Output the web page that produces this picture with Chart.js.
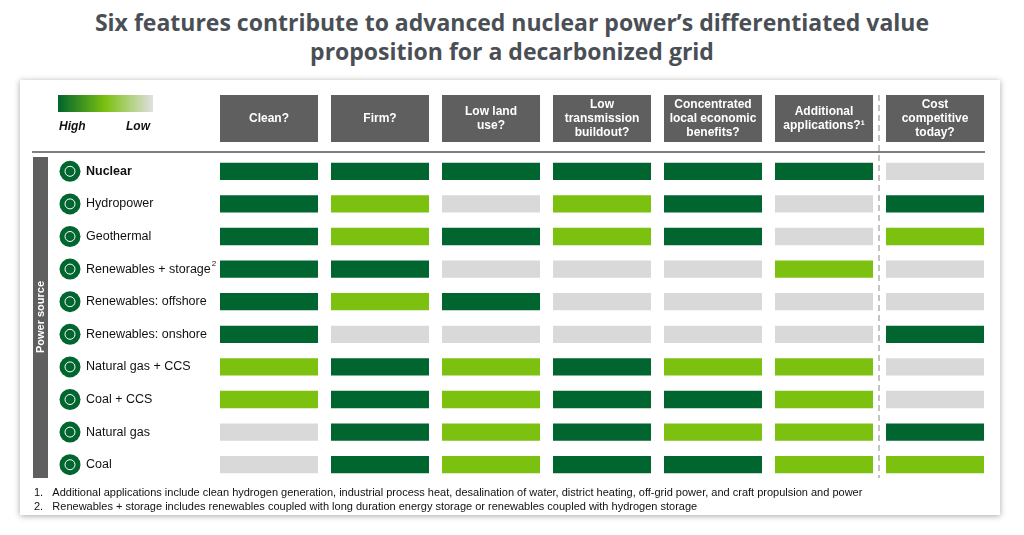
<!DOCTYPE html>
<html><head><meta charset="utf-8">
<script src="https://cdn.jsdelivr.net/npm/chart.js@4"></script>
<style>
body{margin:0;background:#fff;font-family:Arial,"Liberation Sans",sans-serif;}
#title{position:absolute;left:0;top:8px;width:1024px;text-align:center;font-weight:bold;font-size:23px;line-height:29px;color:#4a4f55;font-family:"Open Sans",Arial,sans-serif;}
#card{position:absolute;left:20px;top:80px;width:980px;height:435px;background:#fff;box-shadow:0 1px 6px rgba(0,0,0,0.35);}
#wrap{position:absolute;left:0;top:0;width:1024px;height:535px;}
</style></head><body>
<div id="title">Six features contribute to advanced nuclear power’s differentiated value<br>proposition for a decarbonized grid</div>
<div id="card"></div>
<div id="wrap"><canvas id="c" width="1024" height="535"></canvas></div>
<script>
const sources = ["Nuclear","Hydropower","Geothermal","Renewables + storage","Renewables: offshore","Renewables: onshore","Natural gas + CCS","Coal + CCS","Natural gas","Coal"];
const features = [["Clean?"],["Firm?"],["Low land","use?"],["Low","transmission","buildout?"],["Concentrated","local economic","benefits?"],["Additional","applications?¹"],["Cost","competitive","today?"]];
// 2 = high, 1 = medium, 0 = low
const clean      = [2,2,2,2,2,2,1,1,0,0];
const firm       = [2,1,1,2,1,0,2,2,2,2];
const lowLand    = [2,0,2,0,2,0,1,1,1,1];
const lowTrans   = [2,1,1,0,0,0,2,2,2,2];
const localBen   = [2,2,2,0,0,0,1,2,1,2];
const addApps    = [2,0,0,1,0,0,1,1,1,1];
const costComp   = [0,2,1,0,0,2,0,0,2,1];
const columns = [clean,firm,lowLand,lowTrans,localBen,addApps,costComp];
const footnotes = ["1.   Additional applications include clean hydrogen generation, industrial process heat, desalination of water, district heating, off-grid power, and craft propulsion and power",
"2.   Renewables + storage includes renewables coupled with long duration energy storage or renewables coupled with hydrogen storage"];
const levelColors = ["#d9d9d9","#7cc110","#00652e"];
const barW = 0.883;

const datasets = columns.map((col,ci)=>({
  data: col.map(()=>[ci, ci+barW]),
  backgroundColor: col.map(v=>levelColors[v]),
  grouped:false, barPercentage:0.53, categoryPercentage:1, borderWidth:0
}));

const deco = {
  id:'deco',
  afterDraw(chart){
    const ctx=chart.ctx, xs=chart.scales.x, ys=chart.scales.y;
    ctx.save();
    // headers
    features.forEach((lines,i)=>{
      const x0=xs.getPixelForValue(i), x1=xs.getPixelForValue(i+barW);
      ctx.fillStyle='#5f5f5f'; ctx.fillRect(x0,95,x1-x0,47);
      ctx.fillStyle='#fff'; ctx.font='bold 12px Arial, "Liberation Sans"'; ctx.textAlign='center'; ctx.textBaseline='middle';
      const cy=118.5, lh=14;
      lines.forEach((t,k)=>ctx.fillText(t,(x0+x1)/2,cy+(k-(lines.length-1)/2)*lh));
    });
    // legend gradient
    const g=ctx.createLinearGradient(58,0,153,0);
    g.addColorStop(0,'#00652e'); g.addColorStop(0.5,'#7cc110'); g.addColorStop(1,'#e0e0e0');
    ctx.fillStyle=g; ctx.fillRect(58,95,95,17);
    ctx.fillStyle='#111'; ctx.font='italic bold 12px Arial, "Liberation Sans"'; ctx.textAlign='left';
    ctx.fillText('High',59,127); ctx.fillText('Low',126,127);
    // separator line
    ctx.strokeStyle='#555'; ctx.lineWidth=1.5; ctx.beginPath(); ctx.moveTo(32,152); ctx.lineTo(985,152); ctx.stroke();
    // dashed line
    ctx.strokeStyle='#888'; ctx.lineWidth=1; ctx.setLineDash([6,4]); ctx.beginPath(); ctx.moveTo(879,95); ctx.lineTo(879,478); ctx.stroke(); ctx.setLineDash([]);
    // power source bar
    ctx.fillStyle='#5f5f5f'; ctx.fillRect(33,157,15,321);
    ctx.save(); ctx.translate(41,317); ctx.rotate(-Math.PI/2); ctx.fillStyle='#fff'; ctx.font='bold 11px Arial, "Liberation Sans"'; ctx.textAlign='center'; ctx.fillText('Power source',0,0); ctx.restore();
    // row labels
    sources.forEach((s,i)=>{
      const y=ys.getPixelForValue(i);
      ctx.fillStyle='#00652e'; ctx.beginPath(); ctx.arc(70,y,10.5,0,Math.PI*2); ctx.fill();
      ctx.strokeStyle='#fff'; ctx.lineWidth=1; ctx.beginPath(); ctx.arc(70,y,5,0,Math.PI*2); ctx.stroke();
      ctx.fillStyle='#111'; ctx.textAlign='left'; ctx.textBaseline='middle';
      ctx.font=(i===0?'bold ':'')+'12.5px Arial, "Liberation Sans"';
      ctx.fillText(s,86,y);
      if(s==='Renewables + storage'){const w=ctx.measureText(s).width; ctx.font='8px Arial'; ctx.fillText('2',86+w+1,y-5);}
    });
    // footnotes
    ctx.fillStyle='#111'; ctx.font='11px Arial, "Liberation Sans"'; ctx.textBaseline='middle';
    ctx.fillText(footnotes[0],34,493); ctx.fillText(footnotes[1],34,507);
    ctx.restore();
  }
};

new Chart(document.getElementById('c'),{
  type:'bar',
  data:{labels:sources,datasets},
  options:{
    indexAxis:'y', responsive:false, animation:false,
    layout:{padding:{left:220,right:27,top:155,bottom:54}},
    plugins:{legend:{display:false},tooltip:{enabled:false}},
    scales:{
      x:{type:'linear',min:0,max:7,display:false},
      y:{display:false,grid:{display:false}}
    }
  },
  plugins:[deco]
});
</script></body></html>
